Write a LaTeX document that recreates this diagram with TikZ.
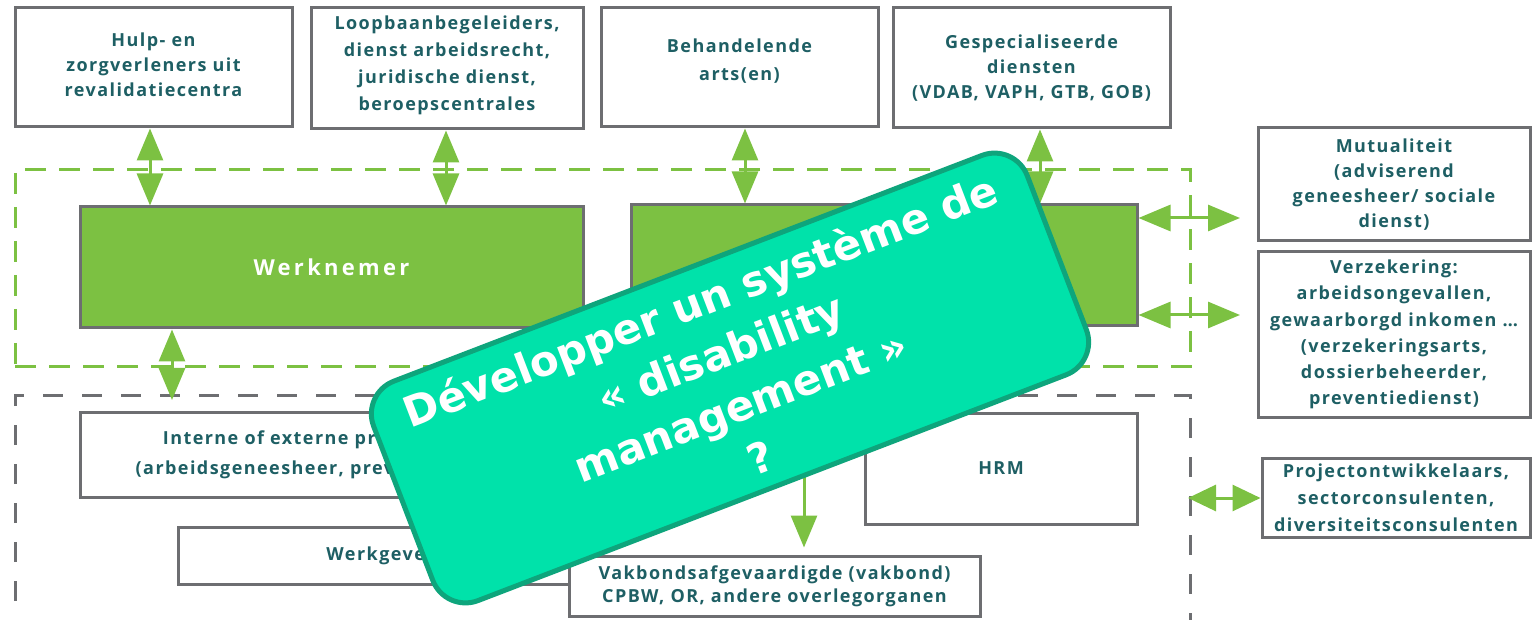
\documentclass[tikz,border=0pt]{standalone}
\usepackage{fontspec}
\setmainfont{Open Sans}
\newfontfamily\labelfont{Open Sans}[LetterSpace=8]
\newfontfamily\headfont{Open Sans}[LetterSpace=15]
\newfontfamily\bannerfont{DejaVu Sans}
\usetikzlibrary{arrows.meta,calc}

\definecolor{boxgray}{HTML}{6D6E71}
\definecolor{leaf}{HTML}{7CC142}
\definecolor{inkteal}{HTML}{1E5F64}
\definecolor{mint}{HTML}{00E2AA}
\definecolor{mintedge}{HTML}{0EA57C}

\tikzset{
  box/.style={draw=boxgray, line width=3pt, fill=white, text=inkteal, align=center,
    inner sep=0pt, font=\labelfont\bfseries\fontsize{18}{25}\selectfont},
  boxtext/.style={text=inkteal, align=center, inner sep=0pt,
    font=\labelfont\bfseries\fontsize{18}{25}\selectfont},
  greenbox/.style={box, fill=leaf, text=white,
    font=\headfont\bfseries\fontsize{22}{26}\selectfont},
  leafzone/.style={draw=leaf, line width=3pt, dash pattern=on 21pt off 13pt},
  grayzone/.style={draw=boxgray, line width=3pt, dash pattern=on 20pt off 19pt},
  link/.style={draw=leaf, line width=3pt,
    {Triangle[width=26pt,length=32pt]}-{Triangle[width=26pt,length=32pt]}},
  shortlink/.style={draw=leaf, line width=3pt,
    {Triangle[width=26pt,length=28pt]}-{Triangle[width=26pt,length=28pt]}},
  feed/.style={draw=leaf, line width=3pt, -{Triangle[width=26pt,length=32pt]}},
  banner/.style={draw=mintedge, line width=5pt, fill=mint, rounded corners=35pt,
    text=white, align=center, inner sep=0pt,
    font=\bannerfont\bfseries\fontsize{42}{56}\selectfont}
}

\begin{document}
\begin{tikzpicture}[x=1pt,y=-1pt]
\useasboundingbox (0,0) rectangle (1532,620);

% dashed zones
\node[leafzone, minimum width=1175pt, minimum height=197pt, inner sep=0pt] (zone) at (602.5,268.5) {};
\draw[grayzone] (15,640) -- (15,395) -- (1190,395) -- (1190,640);

% top row
\node[box, minimum width=277pt, minimum height=119pt] (hulp) at (153.5,67.5) {};
\node[boxtext] (hulp-t) at ([yshift=3pt]hulp.center) {Hulp- en\\zorgverleners uit\\revalidatiecentra};
\node[box, minimum width=272pt, minimum height=121pt] (loop) at (447,68.5) {};
\node[boxtext, font=\labelfont\bfseries\fontsize{18}{27}\selectfont] (loop-t) at ([yshift=3pt]loop.center)
  {Loopbaanbegeleiders,\\dienst arbeidsrecht,\\juridische dienst,\\beroepscentrales};
\node[box, minimum width=277pt, minimum height=119pt] (arts) at (739.5,67.5) {};
\node[boxtext, font=\labelfont\bfseries\fontsize{18}{28}\selectfont] (arts-t) at ([yshift=6pt]arts.center) {Behandelende\\arts(en)};
\node[box, minimum width=277pt, minimum height=120pt] (gesp) at (1031.5,68)
  {Gespecialiseerde\\diensten\\(VDAB, VAPH, GTB, GOB)};

% central actors
\node[greenbox, minimum width=503pt, minimum height=121pt] (wkn) at (331.5,267.5) {Werknemer};
\node[greenbox, minimum width=506pt, minimum height=121pt] (gb2) at (884,265.5) {};

% right column
\node[box, minimum width=272pt, minimum height=113pt] (mutu) at (1394,184.5)
  {Mutualiteit\\(adviserend\\geneesheer/ sociale\\dienst)};
\node[box, minimum width=272pt, minimum height=165pt, font=\labelfont\bfseries\fontsize{18}{26.2}\selectfont] (verz) at (1394,334.5)
  {Verzekering:\\arbeidsongevallen,\\gewaarborgd inkomen …\\(verzekeringsarts,\\dossierbeheerder,\\preventiedienst)};
\node[box, minimum width=268pt, minimum height=79pt, font=\labelfont\bfseries\fontsize{18}{27}\selectfont] (proj) at (1396,497.5)
  {Projectontwikkelaars,\\sectorconsulenten,\\diversiteitsconsulenten};

% lower zone
\node[box, minimum width=520pt, minimum height=85pt, font=\labelfont\bfseries\fontsize{18}{30}\selectfont] (intern) at (340,454.5)
  {Interne of externe preventiedienst\\(arbeidsgeneesheer, preventieadviseur)};
\node[box, minimum width=405pt, minimum height=57pt] (wkg) at (380.5,555.5) {Werkgever};
\node[box, minimum width=272pt, minimum height=111pt] (hrm) at (1001,468.5) {HRM};
\node[box, minimum width=411pt, minimum height=60pt, font=\labelfont\bfseries\fontsize{18}{23}\selectfont] (vak) at (774.5,586)
  {Vakbondsafgevaardigde (vakbond)\\CPBW, OR, andere overlegorganen};

% vertical links from the top row
\draw[link] ([xshift=-3.5pt]hulp.south) -- ([xshift=-3.5pt]hulp.south |- wkn.north);
\draw[link] ([xshift=-1pt]loop.south) -- ([xshift=-1pt]loop.south |- wkn.north);
\draw[link] ([xshift=5.5pt]arts.south) -- ([xshift=5.5pt]arts.south |- gb2.north);
\draw[link] ([xshift=8.5pt]gesp.south) -- ([xshift=8.5pt]gesp.south |- gb2.north);

% link below Werknemer
\coordinate (wk-foot) at (172,400);
\draw[link] (wkn.south -| wk-foot) -- (wk-foot);

% links to the right column
\coordinate (mu-tip) at (1240,218);
\coordinate (vz-tip) at (1240,315);
\draw[link] (gb2.east |- mu-tip) -- (mu-tip);
\draw[link] (gb2.east |- vz-tip) -- (vz-tip);
\coordinate (pj-base) at (1188,498);
\draw[shortlink] (pj-base) -- (proj.west |- pj-base);

% link down to the union delegates
\coordinate (vk-src) at (804,470);
\draw[feed, shorten >=7pt] (vk-src) -- (vak.north -| vk-src);

% banner on top
\node[banner, rotate=21, minimum width=700pt, minimum height=235pt] (dm) at (730,378)
  {Développer un système de\\« disability\\management »\\?};
\end{tikzpicture}
\end{document}
